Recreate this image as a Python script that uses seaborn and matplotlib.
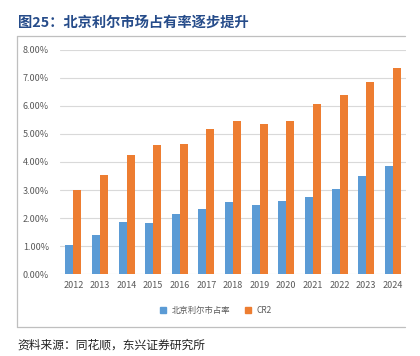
import numpy as np
import pandas as pd
import seaborn as sns
from matplotlib import pyplot as plt
from matplotlib.lines import Line2D
from matplotlib.ticker import FuncFormatter

years = ["2012", "2013", "2014", "2015", "2016", "2017", "2018",
         "2019", "2020", "2021", "2022", "2023", "2024"]
share_bjl = [1.04, 1.40, 1.85, 1.82, 2.14, 2.33, 2.57, 2.45, 2.60, 2.74, 3.04, 3.50, 3.87]
share_cr2 = [2.99, 3.54, 4.26, 4.61, 4.65, 5.17, 5.46, 5.36, 5.45, 6.06, 6.38, 6.85, 7.37]
series_names = ["北京利尔市占率", "CR2"]
colors = ["#5B9BD5", "#ED7D31"]

df = pd.DataFrame({
    "year": years * 2,
    "value": share_bjl + share_cr2,
    "series": [series_names[0]] * len(years) + [series_names[1]] * len(years),
})

sns.set_style("white")
plt.rcParams['font.family'] = ['Noto Sans CJK SC', 'DejaVu Sans']

fig = plt.figure(figsize=(4.2, 3.56), dpi=100)
ax = fig.add_axes([0.143, 0.230, 0.824, 0.630])

sns.barplot(data=df, x="year", y="value", hue="series", palette=colors,
            width=0.6, saturation=1, linewidth=0, ax=ax, legend=False)

ax.set_ylim(0, 8)
ax.set_yticks(np.arange(0, 8.01, 1))
ax.yaxis.set_major_formatter(FuncFormatter(lambda v, p: f"{v:.2f}%"))
ax.grid(axis="y", color="#d9d9d9", linewidth=0.8)
ax.set_axisbelow(True)
for s in ax.spines.values():
    s.set_visible(False)
ax.tick_params(axis="both", length=0, labelsize=6.5, colors="#595959")
ax.tick_params(axis="y", pad=8)
ax.tick_params(axis="x", pad=5)
ax.set_xlabel("")
ax.set_ylabel("")

handles = [Line2D([], [], marker="s", linestyle="", color=c, markersize=4) for c in colors]
fig.legend(handles, series_names, loc="center", bbox_to_anchor=(0.508, 0.128), ncol=2,
           frameon=False, fontsize=6, handletextpad=0.0, columnspacing=1.2,
           labelcolor="#595959")

# title and outer frame
fig.text(0.043, 0.935, "图25：北京利尔市场占有率逐步提升", fontsize=10.3, fontweight="bold",
         color="#264c8a", va="center", ha="left")
frame = dict(color="#bfbfbf", linewidth=0.9)
fig.add_artist(Line2D([0.041, 0.965], [0.900, 0.900], **frame))
fig.add_artist(Line2D([0.041, 0.041], [0.900, 0.082], **frame))
fig.add_artist(Line2D([0.041, 0.965], [0.082, 0.082], **frame))

fig.text(0.041, 0.030, "资料来源：同花顺，东兴证券研究所", fontsize=8.5, style="italic",
         color="#222222", va="center", ha="left")

plt.savefig("out.png", dpi=100)
